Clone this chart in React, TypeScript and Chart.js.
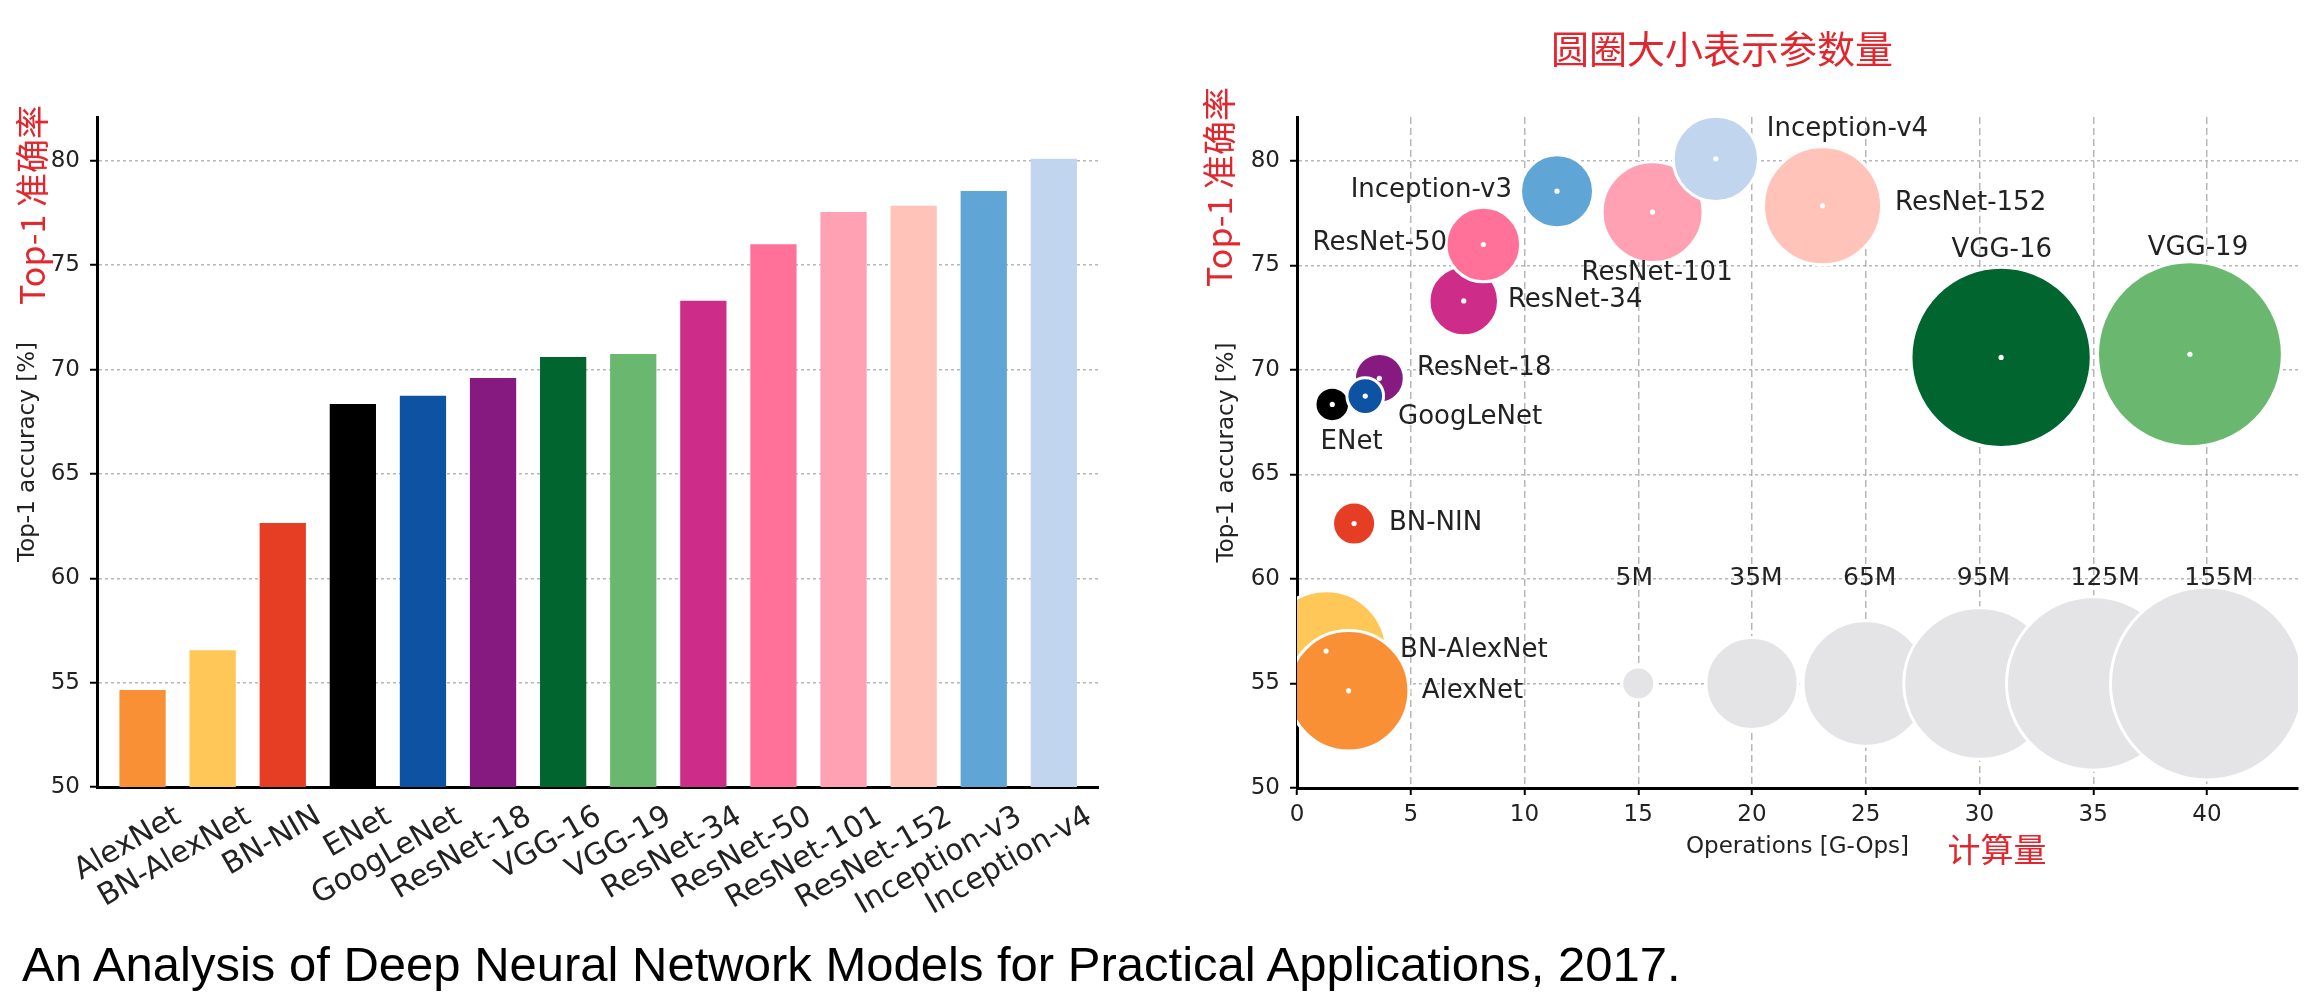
import React, { useEffect, useRef } from "react";
import { Chart, registerables } from "chart.js";

Chart.register(...registerables);

// ---------------- data ----------------
const models = [
  "AlexNet", "BN-AlexNet", "BN-NIN", "ENet", "GoogLeNet", "ResNet-18", "VGG-16",
  "VGG-19", "ResNet-34", "ResNet-50", "ResNet-101", "ResNet-152", "Inception-v3", "Inception-v4",
];
const accuracy = [54.65, 56.55, 62.65, 68.35, 68.75, 69.6, 70.6, 70.75, 73.3, 76.0, 77.55, 77.85, 78.55, 80.1];
const operationsGOps = [2.27, 1.28, 2.51, 1.55, 3.0, 3.62, 30.95, 39.25, 7.33, 8.19, 15.63, 23.1, 11.43, 18.41];
const paramsM = [60, 60, 8, 5.4, 6, 10.5, 135, 142, 20, 23, 42, 57.5, 22, 30];
const modelColors = [
  "#FA9035", "#FEC757", "#E63E25", "#000000", "#0D52A3", "#861A80", "#00652E",
  "#6AB86F", "#CE2C89", "#FF7199", "#FFA1B2", "#FFC3BA", "#5FA5D6", "#C1D5EE",
];
const bubbleDrawOrder = [
  "BN-AlexNet", "AlexNet", "BN-NIN", "ENet", "ResNet-18", "GoogLeNet", "ResNet-34",
  "ResNet-50", "Inception-v3", "ResNet-101", "Inception-v4", "ResNet-152", "VGG-16", "VGG-19",
];
const sizeLegendX = [15, 20, 25, 30, 35, 40];
const sizeLegendParams = [5, 35, 65, 95, 125, 155];
const sizeLegendLabels = ["5M", "35M", "65M", "95M", "125M", "155M"];
const sizeLegendY = 55;
const sizeLegendLabelY = 60;

const accuracyTicks = [50, 55, 60, 65, 70, 75, 80];
const opsTicks = [0, 5, 10, 15, 20, 25, 30, 35, 40];

// label anchors in data units: [x, y, align]
const bubbleLabelAnchors: Record<string, [number, number, CanvasTextAlign]> = {
  "AlexNet": [5.48, 54.64, "left"],
  "BN-AlexNet": [4.53, 56.6, "left"],
  "BN-NIN": [4.04, 62.68, "left"],
  "ENet": [2.4, 66.55, "center"],
  "GoogLeNet": [4.44, 67.74, "left"],
  "ResNet-18": [5.27, 70.08, "left"],
  "ResNet-34": [9.27, 73.33, "left"],
  "ResNet-50": [6.6, 76.06, "right"],
  "Inception-v3": [9.45, 78.6, "right"],
  "ResNet-101": [12.51, 74.64, "left"],
  "Inception-v4": [20.65, 81.5, "left"],
  "ResNet-152": [26.29, 77.96, "left"],
  "VGG-16": [30.98, 75.73, "center"],
  "VGG-19": [39.6, 75.8, "center"],
};

// ---------------- styles ----------------
const FONT = "'DejaVu Sans'";
const TEXT = "#222222";
const GRID = "rgba(170,170,170,0.85)";
const RED = "#e1262d";
const radiusFor = (m: number) => Math.sqrt(Math.max(0, 58.7 * m - 68.5)) + 1.5;

const yAxis = (titlePadTop: number) => ({
  type: "linear" as const,
  min: 50,
  max: 82.1,
  z: 1,
  afterFit: (a: any) => { a.width = 97; },
  afterBuildTicks: (a: any) => { a.ticks = accuracyTicks.map((v) => ({ value: v })); },
  ticks: { font: { family: FONT, size: 23 }, color: TEXT, padding: 10 },
  grid: { color: GRID, lineWidth: 1.5, tickLength: 7, tickColor: "#000", tickWidth: 2, tickBorderDash: [] },
  border: { display: true, color: "#000", width: 3, dash: [3, 3] },
  title: {
    display: true, text: "Top-1 accuracy [%]", color: TEXT,
    font: { family: FONT, size: 23 }, padding: { top: titlePadTop, bottom: 0 },
  },
});

function BarChart() {
  const ref = useRef<HTMLCanvasElement>(null);
  useEffect(() => {
    const chart = new Chart(ref.current!, {
      type: "bar",
      data: {
        datasets: [{
          data: models.map((_, i) => ({ x: i, y: accuracy[i] })),
          backgroundColor: modelColors,
          borderWidth: 0,
          barPercentage: 0.66,
          categoryPercentage: 1,
        }],
      },
      options: {
        animation: false,
        responsive: false,
        devicePixelRatio: 1,
        events: [],
        layout: { autoPadding: false, padding: { top: 117, right: 52, left: 0, bottom: 0 } },
        plugins: { legend: { display: false }, tooltip: { enabled: false } },
        scales: {
          x: {
            type: "linear",
            offset: false,
            min: -0.65,
            max: 13.63,
            z: 1,
            afterBuildTicks: (a: any) => { a.ticks = models.map((_, i) => ({ value: i })); },
            afterFit: (a: any) => { a.height = 153; a.paddingLeft = 0; a.paddingRight = 0; },
            grid: { display: false, drawTicks: false },
            border: { display: true, color: "#000", width: 3 },
            ticks: {
              autoSkip: false, minRotation: 30, maxRotation: 30,
              font: { family: FONT, size: 30 }, color: TEXT, padding: 12, labelOffset: 36,
              callback: (v: any) => models[Math.round(Number(v))] ?? "",
            },
          } as any,
          y: yAxis(14) as any,
        },
      },
    });
    return () => chart.destroy();
  }, []);
  return <canvas ref={ref} width={1150} height={940} style={{ position: "absolute", left: 0, top: 0 }} />;
}

const labelPlugin = {
  id: "bubbleLabels",
  afterDraw(chart: any) {
    const { ctx } = chart;
    const x = chart.scales.x;
    const y = chart.scales.y;
    ctx.save();
    ctx.fillStyle = TEXT;
    ctx.textBaseline = "middle";
    ctx.font = `26px ${FONT}`;
    models.forEach((m) => {
      const a = bubbleLabelAnchors[m];
      if (!a) return;
      ctx.textAlign = a[2];
      ctx.fillText(m, x.getPixelForValue(a[0]), y.getPixelForValue(a[1]));
    });
    ctx.font = `25px ${FONT}`;
    ctx.textAlign = "left";
    sizeLegendLabels.forEach((t, i) => {
      ctx.fillText(t, x.getPixelForValue(sizeLegendX[i] - 1), y.getPixelForValue(sizeLegendLabelY));
    });
    ctx.restore();
  },
};

function BubbleChart() {
  const ref = useRef<HTMLCanvasElement>(null);
  useEffect(() => {
    const idx = bubbleDrawOrder.map((n) => models.indexOf(n));
    const chart = new Chart(ref.current!, {
      type: "bubble",
      data: {
        datasets: [
          {
            data: idx.map((i) => ({ x: operationsGOps[i], y: accuracy[i], r: 2.6 })),
            backgroundColor: "#ffffff",
            borderWidth: 0,
            order: 1,
            clip: 0,
          } as any,
          {
            data: idx.map((i) => ({ x: operationsGOps[i], y: accuracy[i], r: radiusFor(paramsM[i]) })),
            backgroundColor: idx.map((i) => modelColors[i]),
            borderColor: "#ffffff",
            borderWidth: 3,
            order: 2,
            clip: 0,
          } as any,
          {
            data: sizeLegendX.map((x, i) => ({ x, y: sizeLegendY, r: radiusFor(sizeLegendParams[i]) })),
            backgroundColor: "#e4e4e7",
            borderColor: "#ffffff",
            borderWidth: 3,
            order: 3,
            clip: 0,
          } as any,
        ],
      },
      options: {
        animation: false,
        responsive: false,
        devicePixelRatio: 1,
        events: [],
        layout: { autoPadding: false, padding: { top: 117, right: 6, left: 0, bottom: 0 } },
        plugins: { legend: { display: false }, tooltip: { enabled: false } },
        scales: {
          x: {
            type: "linear",
            min: 0,
            max: 44,
            z: 1,
            afterBuildTicks: (a: any) => { a.ticks = opsTicks.map((v) => ({ value: v })); },
            afterFit: (a: any) => { a.height = 152; a.paddingLeft = 0; a.paddingRight = 0; },
            ticks: { font: { family: FONT, size: 23 }, color: TEXT, padding: 6, maxRotation: 0 },
            grid: { color: GRID, lineWidth: 1.5, tickLength: 7, tickColor: "#000", tickWidth: 2, tickBorderDash: [] },
            border: { display: true, color: "#000", width: 3, dash: [7, 4] },
            title: {
              display: true, text: "Operations [G-Ops]", color: TEXT,
              font: { family: FONT, size: 23 }, padding: { top: 0, bottom: 79 },
            },
          } as any,
          y: yAxis(13) as any,
        },
      },
      plugins: [labelPlugin],
    });
    return () => chart.destroy();
  }, []);
  return <canvas ref={ref} width={1104} height={940} style={{ position: "absolute", left: 1200, top: 0 }} />;
}

const hand: React.CSSProperties = {
  position: "absolute",
  fontFamily: "'Noto Sans CJK SC'",
  color: RED,
  whiteSpace: "nowrap",
  lineHeight: 1,
};

export default function App() {
  return (
    <div style={{ position: "absolute", left: 0, top: 0, width: 2304, height: 992, overflow: "hidden", background: "#fff" }}>
      <BarChart />
      <BubbleChart />
      <div style={{ ...hand, left: 31, top: 205, fontSize: 34, transform: "translate(-50%,-50%) rotate(-90deg)" }}>Top-1 准确率</div>
      <div style={{ ...hand, left: 1218, top: 187, fontSize: 34, transform: "translate(-50%,-50%) rotate(-90deg)" }}>Top-1 准确率</div>
      <div style={{ ...hand, left: 1722, top: 47, fontSize: 38, transform: "translate(-50%,-50%)" }}>圆圈大小表示参数量</div>
      <div style={{ ...hand, left: 1997, top: 848, fontSize: 33, transform: "translate(-50%,-50%)" }}>计算量</div>
      <div style={{ position: "absolute", left: 22, top: 940, fontFamily: "'Liberation Sans'", fontSize: 49, lineHeight: "49px", color: "#000", whiteSpace: "nowrap" }}>
        An Analysis of Deep Neural Network Models for Practical Applications, 2017.
      </div>
    </div>
  );
}
